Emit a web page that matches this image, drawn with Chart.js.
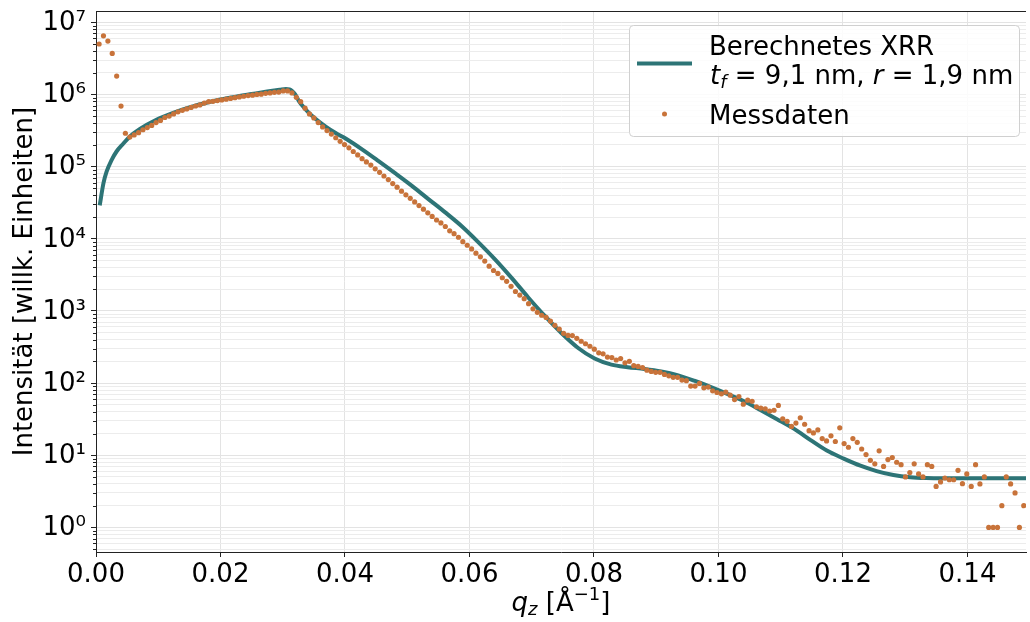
<!DOCTYPE html>
<html><head><meta charset="utf-8">
<script src="https://cdn.jsdelivr.net/npm/chart.js@4.4.1/dist/chart.umd.min.js"></script>
<style>html,body{margin:0;padding:0;background:#fff}#c{display:block}</style>
</head><body>
<canvas id="c" width="1030" height="622"></canvas>
<script>
// ---- data ----
const qMess = [
0.00050,0.00120,0.00191,0.00261,0.00332,0.00402,0.00472,0.00543,0.00613,0.00684,
0.00754,0.00824,0.00895,0.00965,0.01036,0.01106,0.01176,0.01247,0.01317,0.01388,
0.01458,0.01528,0.01599,0.01669,0.01740,0.01810,0.01880,0.01951,0.02021,0.02092,
0.02162,0.02232,0.02303,0.02373,0.02444,0.02514,0.02584,0.02655,0.02725,0.02796,
0.02866,0.02936,0.03007,0.03077,0.03148,0.03218,0.03288,0.03359,0.03429,0.03500,
0.03570,0.03640,0.03711,0.03781,0.03852,0.03922,0.03992,0.04063,0.04133,0.04204,
0.04274,0.04344,0.04415,0.04485,0.04556,0.04626,0.04696,0.04767,0.04837,0.04908,
0.04978,0.05048,0.05119,0.05189,0.05260,0.05330,0.05400,0.05471,0.05541,0.05612,
0.05682,0.05752,0.05823,0.05893,0.05964,0.06034,0.06104,0.06175,0.06245,0.06316,
0.06386,0.06456,0.06527,0.06597,0.06668,0.06738,0.06808,0.06879,0.06949,0.07020,
0.07090,0.07160,0.07231,0.07301,0.07372,0.07442,0.07512,0.07583,0.07653,0.07724,
0.07794,0.07864,0.07935,0.08005,0.08076,0.08146,0.08216,0.08287,0.08357,0.08428,
0.08498,0.08568,0.08639,0.08709,0.08780,0.08850,0.08920,0.08991,0.09061,0.09132,
0.09202,0.09272,0.09343,0.09413,0.09484,0.09554,0.09624,0.09695,0.09765,0.09836,
0.09906,0.09976,0.10047,0.10117,0.10188,0.10258,0.10328,0.10399,0.10469,0.10540,
0.10610,0.10680,0.10751,0.10821,0.10892,0.10962,0.11032,0.11103,0.11173,0.11244,
0.11314,0.11384,0.11455,0.11525,0.11596,0.11666,0.11736,0.11807,0.11877,0.11948,
0.12018,0.12088,0.12159,0.12229,0.12300,0.12370,0.12440,0.12511,0.12581,0.12652,
0.12722,0.12792,0.12863,0.12933,0.13004,0.13074,0.13144,0.13215,0.13285,0.13356,
0.13426,0.13496,0.13567,0.13637,0.13708,0.13778,0.13848,0.13919,0.13989,0.14060,
0.14130,0.14200,0.14271,0.14341,0.14412,0.14482,0.14552,0.14623,0.14693,0.14764,
0.14834,0.14904];
const iMess = [
5.0e6,6.5e6,5.5e6,3.7e6,1.8e6,6.9e5,2.9e5,2.57e5,2.75e5,2.95e5,
3.24e5,3.47e5,3.72e5,4.07e5,4.37e5,4.79e5,5.01e5,5.37e5,5.75e5,6.03e5,
6.31e5,6.61e5,6.92e5,7.16e5,7.59e5,7.94e5,8.04e5,8.22e5,8.41e5,8.61e5,
8.81e5,9.02e5,9.23e5,9.44e5,9.66e5,9.77e5,1.0e6,1.01e6,1.035e6,1.05e6,
1.07e6,1.08e6,1.12e6,1.12e6,1.05e6,9.12e5,7.94e5,6.46e5,5.37e5,4.73e5,
4.07e5,3.55e5,3.16e5,2.82e5,2.51e5,2.24e5,2.02e5,1.82e5,1.62e5,1.45e5,
1.29e5,1.16e5,1.05e5,9.33e4,8.32e4,7.41e4,6.61e4,5.82e4,5.19e4,4.57e4,
4.07e4,3.63e4,3.24e4,2.88e4,2.57e4,2.29e4,2.04e4,1.82e4,1.66e4,1.48e4,
1.29e4,1.175e4,1.05e4,9120,8130,7240,6310,5620,4900,4170,
3630,3310,2880,2570,2190,1860,1660,1480,1260,1070,
955,871,813,724,631,562,490,457,455,417,
380,351,324,295,263,254,229,226,209,219,
191,200,174,170,164,151,145,141,141,132,
126,120,120,110,108,91,91,99,86,88,
78,74,71,75,68,59,65,51,58,56,
47,45,44,41,42,49,32,29.5,25.1,27.9,
33.1,26.9,21.9,20.4,22.4,17.0,15.8,18.6,15.5,24.0,
14.5,12.9,17.0,15.1,12.2,10.2,8.5,7.6,11.5,7.0,
8.7,9.3,8.0,7.4,5.0,5.75,7.6,5.5,5.0,7.4,
7.0,3.7,4.27,4.84,4.57,4.57,6.17,4.03,5.5,3.7,
7.4,4.0,5.0,1,1,1,2,5.0,4.0,3.0,
1,2];
const qFit = [0.0006,0.0012,0.0017,0.0025,0.0033,0.0044,0.0054,0.0070,0.0097,0.0124,
0.0150,0.0182,0.0200,0.0225,0.0250,0.0275,0.0295,0.0305,0.0311,0.0315,
0.0320,0.0326,0.0334,0.0342,0.0353,0.0369,0.0385,0.0401,0.0428,0.0454,
0.0481,0.0508,0.0534,0.0561,0.0588,0.0614,0.0641,0.0668,0.0694,0.0721,
0.0748,0.0774,0.0801,0.0828,0.0854,0.0881,0.0908,0.0934,0.0961,0.0988,
0.1014,0.1041,0.1068,0.1094,0.1121,0.1148,0.1174,0.1201,0.1228,0.1254,
0.1281,0.1308,0.1334,0.1361,0.1500];
const iFit = [2.9e4,5.9e4,8.5e4,1.23e5,1.62e5,2.09e5,2.6e5,3.31e5,4.47e5,5.56e5,
6.61e5,7.85e5,8.51e5,9.33e5,1.012e6,1.096e6,1.16e6,1.19e6,1.175e6,1.12e6,
1.0e6,8.1e5,6.6e5,5.56e5,4.57e5,3.59e5,2.92e5,2.45e5,1.72e5,1.19e5,
8.04e4,5.37e4,3.55e4,2.32e4,1.48e4,9.0e3,5.19e3,2.85e3,1.55e3,851,
490,309,219,180,166,157,145,129,108,88,
71,56,42,31.6,23.4,16.2,11.6,9.0,7.16,6.03,
5.31,4.95,4.82,4.79,4.79];
const xTicks = [0,0.02,0.04,0.06,0.08,0.10,0.12,0.14];
const yDecades = [0.1,1,10,100,1e3,1e4,1e5,1e6,1e7];
const yMinorFactors = [1,2,3,4,5,6,7,8,9];
const xLimits = [0,0.1494];
const yLimits = [0.456,1.434e7];
const fitLabel = 'Berechnetes XRR';
// [text, style]: i = italic, s = subscript italic, n = normal
const fitLabel2 = [['t','i'],['f','s'],[' = 9,1 nm, ','n'],['r','i'],[' = 1,9 nm','n']];
const messLabel = 'Messdaten';
const xTitle = [['q','i'],['z','s'],[' [Å','n'],['−1','p'],[']','n']];
const yTitle = 'Intensität [willk. Einheiten]';

// ---- styles ----
const FIT_COLOR = '#2d7476';
const DOT_COLOR = '#c8733a';
const FONT = '"DejaVu Sans", sans-serif';
const FS = 26;
const SUP = {'0':'⁰','1':'¹','2':'²','3':'³','4':'⁴','5':'⁵','6':'⁶','7':'⁷','8':'⁸','9':'⁹','-':'⁻'};
const isDecade = v => Math.abs(Math.log10(v) - Math.round(Math.log10(v))) < 1e-6;
const decLabel = v => '10' + String(Math.round(Math.log10(v))).split('').map(c=>SUP[c]).join('');

const yTickVals = [];
yDecades.forEach(d => yMinorFactors.forEach(m => {
  const v = +(m*d).toPrecision(6);
  if (v >= yLimits[0] && v <= yLimits[1]) yTickVals.push(v);
}));

const STY = {
  n: {f: FS + 'px ' + FONT, dy: 0},
  i: {f: 'italic ' + FS + 'px ' + FONT, dy: 0},
  s: {f: 'italic 18px ' + FONT, dy: 4},
  p: {f: '18px ' + FONT, dy: -11}
};
function drawRich(ctx, segs, x, y, align) {
  let w = 0;
  segs.forEach(s => { ctx.font = STY[s[1]].f; w += ctx.measureText(s[0]).width; });
  if (align === 'center') x -= w / 2;
  segs.forEach(s => {
    ctx.font = STY[s[1]].f;
    ctx.fillText(s[0], x, y + STY[s[1]].dy);
    x += ctx.measureText(s[0]).width;
  });
}

const decor = {
  id: 'decor',
  afterDraw(chart) {
    const ctx = chart.ctx, a = chart.chartArea, ys = chart.scales.y;
    ctx.save();
    // minor y ticks
    ctx.strokeStyle = '#222'; ctx.lineWidth = 1;
    ys.ticks.forEach(t => {
      if (isDecade(t.value)) return;
      const y = Math.round(ys.getPixelForValue(t.value)) + 0.5;
      ctx.beginPath(); ctx.moveTo(a.left - 3, y); ctx.lineTo(a.left, y); ctx.stroke();
    });
    // top spine
    ctx.beginPath(); ctx.moveTo(a.left, a.top + 0.5); ctx.lineTo(a.right, a.top + 0.5); ctx.stroke();

    ctx.fillStyle = '#000'; ctx.textBaseline = 'alphabetic'; ctx.textAlign = 'left';
    // x title
    drawRich(ctx, xTitle, 561, 611, 'center');

    // legend
    const L = 629.5, T = 25.5, R = 1019.5, B = 136.5, rad = 4;
    ctx.beginPath();
    ctx.moveTo(L + rad, T); ctx.lineTo(R - rad, T); ctx.quadraticCurveTo(R, T, R, T + rad);
    ctx.lineTo(R, B - rad); ctx.quadraticCurveTo(R, B, R - rad, B);
    ctx.lineTo(L + rad, B); ctx.quadraticCurveTo(L, B, L, B - rad);
    ctx.lineTo(L, T + rad); ctx.quadraticCurveTo(L, T, L + rad, T); ctx.closePath();
    ctx.fillStyle = 'rgba(255,255,255,0.85)'; ctx.fill();
    ctx.strokeStyle = '#d0d0d0'; ctx.lineWidth = 1; ctx.stroke();
    ctx.strokeStyle = FIT_COLOR; ctx.lineWidth = 4;
    ctx.beginPath(); ctx.moveTo(637, 63.5); ctx.lineTo(692, 63.5); ctx.stroke();
    ctx.fillStyle = DOT_COLOR;
    ctx.beginPath(); ctx.arc(664.5, 114, 2.5, 0, Math.PI * 2); ctx.fill();
    ctx.fillStyle = '#000';
    ctx.font = STY.n.f;
    ctx.fillText(fitLabel, 709, 54.5);
    ctx.fillText(messLabel, 709, 123.5);
    drawRich(ctx, fitLabel2, 710, 83.5, 'left');
    ctx.restore();
  }
};

new Chart(document.getElementById('c'), {
  type: 'scatter',
  data: {
    datasets: [
      {
        label: messLabel, order: 1,
        data: qMess.map((q, i) => ({x: q, y: iMess[i]})),
        pointRadius: 2.6, pointBorderWidth: 0, backgroundColor: DOT_COLOR, borderColor: DOT_COLOR,
        showLine: false
      },
      {
        label: fitLabel, order: 2,
        data: qFit.map((q, i) => ({x: q, y: iFit[i]})),
        showLine: true, borderColor: FIT_COLOR, borderWidth: 4, pointRadius: 0,
        cubicInterpolationMode: 'monotone', fill: false
      }
    ]
  },
  options: {
    responsive: false, animation: false, devicePixelRatio: 1,
    layout: {padding: {top: 11, left: 0, right: 0, bottom: 0}},
    plugins: {legend: {display: false}, tooltip: {enabled: false}},
    scales: {
      x: {
        type: 'linear', position: 'bottom', min: xLimits[0], max: xLimits[1],
        afterBuildTicks: s => { s.ticks = xTicks.map(v => ({value: v})); },
        afterFit: s => { s.height = 70; s.paddingLeft = 0; s.paddingRight = 0; },
        ticks: {font: {family: FONT, size: FS}, color: '#000', padding: 3, maxRotation: 0, autoSkip: false,
                callback: v => Number(v).toFixed(2)},
        grid: {color: '#e3e3e3', lineWidth: 1, tickLength: 5, tickColor: '#222'},
        border: {display: true, color: '#222', width: 1}
      },
      y: {
        type: 'logarithmic', position: 'left', min: yLimits[0], max: yLimits[1],
        afterBuildTicks: s => { s.ticks = yTickVals.map(v => ({value: v, major: isDecade(v)})); },
        afterFit: s => { s.width = 96; s.paddingTop = 0; s.paddingBottom = 0; },
        ticks: {font: {family: FONT, size: FS}, color: '#000', padding: 5, autoSkip: false, labelOffset: 1,
                callback: v => isDecade(v) ? decLabel(v) : ''},
        grid: {
          color: c => (c.tick && isDecade(c.tick.value)) ? '#e3e3e3' : '#ececec',
          lineWidth: 1, tickLength: 5,
          tickColor: c => (c.tick && isDecade(c.tick.value)) ? '#222' : 'rgba(0,0,0,0)'
        },
        border: {display: true, color: '#222', width: 1},
        title: {display: true, text: yTitle, color: '#000', font: {family: FONT, size: FS}, padding: {top: 10, bottom: 0}}
      }
    }
  },
  plugins: [decor]
});
</script>
</body></html>
